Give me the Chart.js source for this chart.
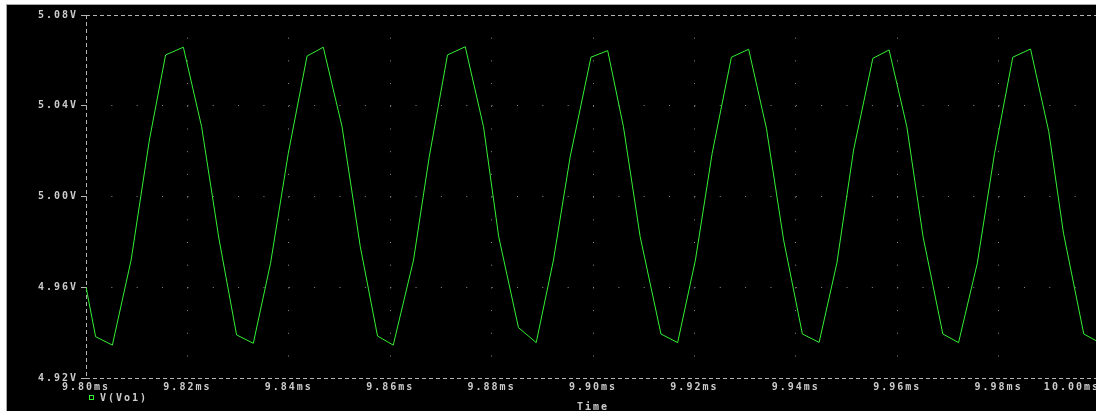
<!DOCTYPE html>
<html lang="en">
<head>
    <meta charset="UTF-8">
    <title>V(Vo1) - Time</title>
    <style>
        body {
            margin: 0;
            background-color: #ffffff;
            overflow: hidden;
            width: 1096px;
            height: 411px;
        }
        .screen {
            position: absolute;
            left: 6px;
            top: 4px;
            width: 1200px;
            height: 420px;
            background-color: #000000;
            border-left: 1px solid #a8a8a8;
            border-top: 1px solid #a8a8a8;
        }
        #probeChart {
            position: absolute;
            left: 0;
            top: 0;
        }
    </style>
</head>
<body>
    <div class="screen"></div>
    <canvas id="probeChart" width="1120" height="411"></canvas>
    <script src="https://cdn.jsdelivr.net/npm/chart.js"></script>
    <script>
        // simulation output
        const timeMs = [
            9.8000, 9.8019, 9.8052, 9.8089, 9.8125, 9.8157, 9.8192, 9.8228, 9.8262, 9.8297,
            9.8330, 9.8364, 9.8399, 9.8436, 9.8468, 9.8505, 9.8541, 9.8575, 9.8606, 9.8646,
            9.8677, 9.8713, 9.8748, 9.8784, 9.8814, 9.8853, 9.8888, 9.8922, 9.8955, 9.8996,
            9.9029, 9.9060, 9.9093, 9.9134, 9.9167, 9.9202, 9.9235, 9.9273, 9.9307, 9.9342,
            9.9376, 9.9413, 9.9446, 9.9481, 9.9514, 9.9552, 9.9584, 9.9619, 9.9651, 9.9690,
            9.9721, 9.9758, 9.9792, 9.9828, 9.9863, 9.9899, 9.9928, 9.9968, 10.0000
        ];
        const vo1 = [
            4.9601, 4.9382, 4.9345, 4.9720, 5.0249, 5.0624, 5.0658, 5.0308, 4.9817, 4.9390,
            4.9353, 4.9706, 5.0190, 5.0619, 5.0658, 5.0308, 4.9779, 4.9385, 4.9345, 4.9720,
            5.0175, 5.0624, 5.0660, 5.0308, 4.9823, 4.9422, 4.9356, 4.9720, 5.0175, 5.0614,
            5.0643, 5.0308, 4.9823, 4.9394, 4.9356, 4.9720, 5.0190, 5.0614, 5.0649, 5.0301,
            4.9808, 4.9394, 4.9357, 4.9706, 5.0205, 5.0609, 5.0646, 5.0308, 4.9823, 4.9394,
            4.9356, 4.9706, 5.0190, 5.0614, 5.0650, 5.0286, 4.9838, 4.9394, 4.9355
        ];
        const xTicks = [9.80, 9.82, 9.84, 9.86, 9.88, 9.90, 9.92, 9.94, 9.96, 9.98, 10.00];
        const yTicks = [4.92, 4.96, 5.00, 5.04, 5.08];
        const traceName = 'V(Vo1)';

        const textColor = '#cccccc';
        const axisColor = '#b4b4b4';
        const dotColor = '#8a8a8a';
        const monoFont = { family: '"DejaVu Sans Mono", monospace', size: 10, weight: 'bold' };

        // the old probe font is widely spaced
        const spacing = {
            id: 'spacing',
            beforeLayout(chart) { chart.ctx.letterSpacing = '2px'; },
            beforeDraw(chart) { chart.ctx.letterSpacing = '2px'; }
        };

        // trace name under the first time label
        const probeLegend = {
            id: 'probeLegend',
            afterDraw(chart) {
                const ctx = chart.ctx;
                const ds = chart.data.datasets[0];
                ctx.save();
                ctx.strokeStyle = ds.borderColor;
                ctx.lineWidth = 1;
                ctx.strokeRect(89.5, 395.5, 4, 4);
                ctx.fillStyle = textColor;
                ctx.font = 'bold 10px "DejaVu Sans Mono", monospace';
                ctx.textAlign = 'left';
                ctx.textBaseline = 'middle';
                ctx.fillText(ds.label, 100, 398);
                ctx.restore();
            }
        };

        function isEdge(c, count) {
            return c.index === 0 || c.index === count - 1;
        }

        // last time label sits pulled in from its tick, like the probe does
        function timeLabel(v, i) {
            const s = v.toFixed(2) + 'ms';
            return i === xTicks.length - 1 ? s + '       ' : s;
        }

        const pts = timeMs.map((t, i) => ({ x: t, y: vo1[i] }));

        new Chart(document.getElementById('probeChart'), {
            type: 'line',
            data: {
                datasets: [{
                    label: traceName,
                    data: pts,
                    borderColor: '#33f033',
                    borderWidth: 1,
                    pointRadius: 0,
                    tension: 0,
                    fill: false
                }]
            },
            options: {
                responsive: false,
                animation: false,
                layout: { padding: { top: 15, left: 0, right: 20, bottom: 0 } },
                plugins: {
                    legend: { display: false },
                    tooltip: { enabled: false }
                },
                scales: {
                    x: {
                        type: 'linear',
                        min: 9.80,
                        max: 10.00,
                        afterBuildTicks: s => { s.ticks = xTicks.map(v => ({ value: v })); },
                        afterFit: s => { s.height = 33; s.paddingLeft = 0; s.paddingRight = 0; },
                        ticks: {
                            autoSkip: false,
                            maxRotation: 0,
                            padding: 3,
                            color: textColor,
                            font: monoFont,
                            callback: (v, i) => timeLabel(v, i)
                        },
                        grid: {
                            drawTicks: false,
                            color: c => isEdge(c, xTicks.length) ? axisColor : dotColor
                        },
                        border: {
                            display: false,
                            dash: c => isEdge(c, xTicks.length) ? [4, 3] : [1, 21.7]
                        },
                        title: {
                            display: true,
                            text: 'Time',
                            color: textColor,
                            font: { family: '"DejaVu Sans Mono", monospace', size: 10, weight: 'bold', lineHeight: 1 },
                            padding: { top: 0, bottom: -1 }
                        }
                    },
                    y: {
                        type: 'linear',
                        min: 4.92,
                        max: 5.08,
                        afterBuildTicks: s => { s.ticks = yTicks.map(v => ({ value: v })); },
                        afterFit: s => { s.width = 86; },
                        ticks: {
                            padding: 3,
                            color: textColor,
                            font: monoFont,
                            callback: v => v.toFixed(2) + 'V'
                        },
                        grid: {
                            drawTicks: true,
                            tickLength: 5,
                            tickColor: axisColor,
                            tickBorderDash: [],
                            color: c => isEdge(c, yTicks.length) ? axisColor : dotColor
                        },
                        border: {
                            display: false,
                            dash: c => isEdge(c, yTicks.length) ? [4, 3] : [1, 24.35]
                        }
                    }
                }
            },
            plugins: [spacing, probeLegend]
        });
    </script>
</body>
</html>
